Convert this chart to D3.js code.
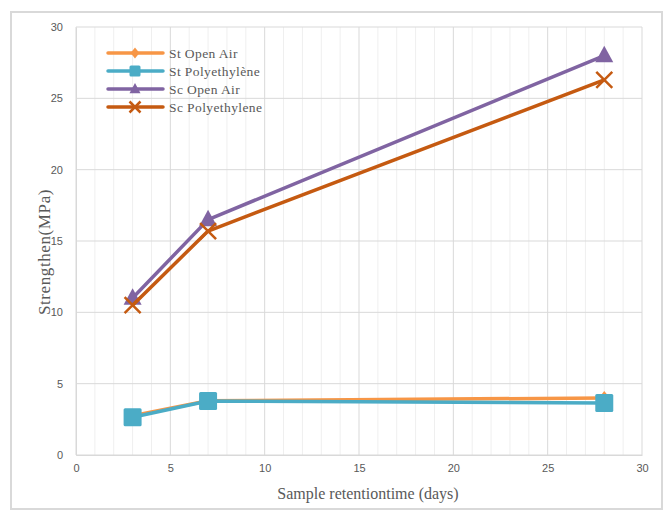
<!DOCTYPE html>
<html><head><meta charset="utf-8">
<script src="https://cdn.jsdelivr.net/npm/d3@7"></script>
<style>body{margin:0;background:#fff;}svg{display:block;}</style>
</head><body>
<svg id="c" width="668" height="513"></svg>
<script>
const days = [3, 7, 28];
const seriesNames = ["St Open Air", "St Polyethylène", "Sc Open Air", "Sc Polyethylene"];
const stOpenAir = [2.75, 3.8, 4.0];
const stPoly = [2.65, 3.78, 3.65];
const scOpenAir = [11.0, 16.5, 28.0];
const scPoly = [10.5, 15.7, 26.3];
const xTicks = [0, 5, 10, 15, 20, 25, 30];
const yTicks = [0, 5, 10, 15, 20, 25, 30];
const xTitle = "Sample retentiontime  (days)";
const yTitle = "Strengthen(MPa)";

const colors = ["#F79646", "#4BACC6", "#8064A2", "#C55A11"];
const markers = ["diamond", "square", "triangle", "cross"];
const data = [stOpenAir, stPoly, scOpenAir, scPoly];

const svg = d3.select("#c");
svg.append("rect").attr("x", 11).attr("y", 12).attr("width", 651).attr("height", 497)
  .attr("fill", "#fff").attr("stroke", "#d9d9d9").attr("stroke-width", 2);

const x = d3.scaleLinear().domain([0, 30]).range([76, 642]);
const y = d3.scaleLinear().domain([0, 30]).range([455, 27]);

svg.append("g").selectAll("line").data(d3.range(0, 31)).join("line")
  .attr("x1", d => x(d)).attr("x2", d => x(d)).attr("y1", y(30)).attr("y2", y(0))
  .attr("stroke", d => d % 5 === 0 ? "#d9d9d9" : "#efefef").attr("stroke-width", 1);
svg.append("g").selectAll("line").data(yTicks).join("line")
  .attr("x1", x(0)).attr("x2", x(30)).attr("y1", d => y(d)).attr("y2", d => y(d))
  .attr("stroke", "#d9d9d9").attr("stroke-width", 1);

const xAxis = svg.append("g").attr("transform", `translate(0,${y(0)})`)
  .call(d3.axisBottom(x).tickValues(xTicks).tickSize(0).tickPadding(9));
xAxis.select(".domain").attr("stroke", "#d9d9d9");
const yAxis = svg.append("g").attr("transform", `translate(${x(0)},0)`)
  .call(d3.axisLeft(y).tickValues(yTicks).tickSize(0).tickPadding(13));
yAxis.select(".domain").attr("stroke", "#d9d9d9");
svg.selectAll(".tick text").attr("fill", "#595959").attr("font-size", 11)
  .attr("font-family", "Liberation Sans, Arial, sans-serif");

svg.append("text").attr("x", 368).attr("y", 499).attr("text-anchor", "middle")
  .attr("font-family", "Liberation Serif, serif").attr("font-size", 16).attr("fill", "#595959")
  .text(xTitle);
svg.append("text").attr("transform", "translate(50,252) rotate(-90)").attr("text-anchor", "middle")
  .attr("font-family", "Liberation Serif, serif").attr("font-size", 17).attr("letter-spacing", 0.6)
  .attr("fill", "#595959").text(yTitle);

function drawMarker(g, type, cx, cy, color, s) {
  if (type === "diamond") {
    g.append("path").attr("d", `M${cx},${cy - s}L${cx + s * 0.8},${cy}L${cx},${cy + s}L${cx - s * 0.8},${cy}Z`).attr("fill", color);
  } else if (type === "square") {
    g.append("rect").attr("x", cx - s).attr("y", cy - s).attr("width", 2 * s).attr("height", 2 * s)
      .attr("rx", 1.5).attr("fill", color);
  } else if (type === "triangle") {
    g.append("path").attr("d", `M${cx},${cy - s * 1.1}L${cx + s},${cy + s * 0.75}L${cx - s},${cy + s * 0.75}Z`).attr("fill", color);
  } else {
    g.append("path").attr("d", `M${cx - s},${cy - s}L${cx + s},${cy + s}M${cx - s},${cy + s}L${cx + s},${cy - s}`)
      .attr("stroke", color).attr("stroke-width", 2.5);
  }
}
const sizes = [7, 9, 9, 8];
const line = d3.line().x((d, i) => x(days[i])).y(d => y(d));
data.forEach((vals, k) => {
  const g = svg.append("g");
  g.append("path").datum(vals).attr("d", line).attr("fill", "none")
    .attr("stroke", colors[k]).attr("stroke-width", 3.5).attr("stroke-linejoin", "round");
  vals.forEach((v, i) => drawMarker(g, markers[k], x(days[i]), y(v), colors[k], sizes[k]));
});

const leg = svg.append("g");
seriesNames.forEach((n, k) => {
  const ly = 53 + k * 18;
  leg.append("line").attr("x1", 108).attr("x2", 163).attr("y1", ly).attr("y2", ly)
    .attr("stroke", colors[k]).attr("stroke-width", 3.5).attr("stroke-linecap", "round");
  drawMarker(leg, markers[k], 135, ly, colors[k], k === 1 ? 5.5 : 5.5);
  leg.append("text").attr("x", 169).attr("y", ly + 4.5).attr("font-family", "Liberation Serif, serif")
    .attr("font-size", 13.5).attr("letter-spacing", 0.4).attr("fill", "#595959").text(n);
});
</script>
</body></html>
